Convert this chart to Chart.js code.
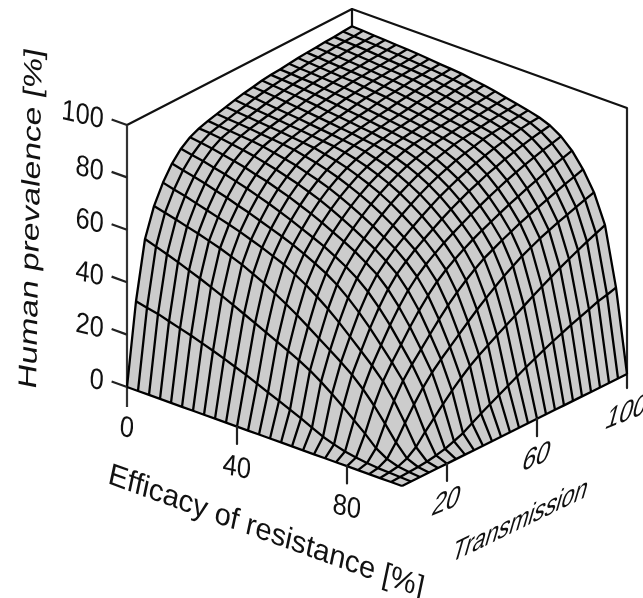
<!DOCTYPE html>
<html>
<head>
<meta charset="utf-8">
<style>body{margin:0;background:#fff;overflow:hidden}canvas{display:block}</style>
<script src="https://cdn.jsdelivr.net/npm/chart.js@4"></script>
</head>
<body>
<canvas id="surface" width="643" height="598"></canvas>
<script>
const efficacy = [0,4,8,12,16,20,24,28,32,36,40,44,48,52,56,60,64,68,72,76,80,84,88,92,96,100];
const transmission = [0,4,8,12,16,20,24,28,32,36,40,44,48,52,56,60,64,68,72,76,80,84,88,92,96,100];

// one row per transmission value, one column per efficacy value
const prevalence = [
[0,0,0,0,0,0,0,0,0,0,0,0,0,0,0,0,0,0,0,0,0,0,0,0,0,0],
[31,30,29.2,27.9,26.7,25.5,24.1,22.7,21.2,19.6,18,16.2,14.4,12.6,10.8,9,7,5,3.6,2.4,1.6,1,.6,.4,.2,0],
[53,51.6,50.2,48.7,47.1,45.5,43.7,41.9,40,38,36,34,32,30,27.9,25.5,22.7,19.6,16.2,12.6,9,5,2.4,1,.4,0],
[63.8,62.8,61.7,60.5,59.4,58.1,56.8,55.2,53.6,51.6,49.5,47.1,44.6,41.9,39,36,33,30,26.7,22.7,18,12.6,7,2.4,.6,0],
[71,69.9,68.9,67.7,66.5,65.3,64.1,62.8,61.3,59.8,58.1,56.4,54.1,51.6,48.7,45.5,41.9,38,34,30,25.5,19.6,12.6,5,1,0],
[76.5,75.5,74.5,73.4,72.2,71,69.6,68.3,66.8,65.3,63.8,62.1,60.2,58.1,55.8,53,49.5,45.5,41,36,31,25.5,18,9,1.6,0],
[80.4,79.5,78.7,77.7,76.7,75.5,74.3,72.9,71.5,69.9,68.3,66.5,64.7,62.8,60.5,58.1,55.2,51.6,47.1,41.9,36,30,22.7,12.6,2.4,0],
[83,82.4,81.7,80.9,80,79,77.8,76.7,75.3,73.9,72.2,70.5,68.6,66.5,64.4,62.1,59.4,56.4,52.3,47.1,41,34,26.7,16.2,3.6,0],
[84.6,84.3,83.8,83.1,82.4,81.6,80.6,79.5,78.3,77,75.5,73.9,72,69.9,67.7,65.3,62.8,59.8,56.4,51.6,45.5,38,30,19.6,5,0],
[85.7,85.3,84.9,84.5,84.1,83.5,82.6,81.8,80.8,79.5,78.2,76.7,74.9,72.9,70.7,68.3,65.6,62.8,59.4,55.2,49.5,41.9,33,22.7,7,0],
[86.6,86.2,85.9,85.5,85,84.6,84.1,83.5,82.6,81.6,80.4,79,77.3,75.5,73.4,71,68.3,65.3,62.1,58.1,53,45.5,36,25.5,9,0],
[87.5,87.1,86.7,86.3,85.9,85.5,85,84.5,84,83.1,82.1,80.9,79.4,77.7,75.7,73.4,70.7,67.7,64.4,60.5,55.8,48.7,39,27.9,10.8,0],
[88.4,87.9,87.5,87.1,86.7,86.2,85.8,85.3,84.8,84.3,83.5,82.4,81.1,79.5,77.7,75.5,72.9,69.9,66.5,62.8,58.1,51.6,41.9,30,12.6,0],
[89.2,88.8,88.3,87.8,87.4,87,86.5,86,85.5,85,84.4,83.6,82.4,81.1,79.4,77.3,74.9,72,68.6,64.7,60.2,54.1,44.6,32,14.4,0],
[89.8,89.5,89.1,88.6,88.1,87.7,87.2,86.7,86.2,85.7,85,84.4,83.6,82.4,80.9,79,76.7,73.9,70.5,66.5,62.1,56.4,47.1,34,16.2,0],
[90.5,90.1,89.7,89.3,88.9,88.4,87.8,87.3,86.8,86.2,85.7,85,84.4,83.5,82.1,80.4,78.2,75.5,72.2,68.3,63.8,58.1,49.5,36,18,0],
[90.9,90.6,90.3,89.9,89.5,89,88.5,87.9,87.4,86.8,86.2,85.7,85,84.3,83.1,81.6,79.5,77,73.9,69.9,65.3,59.8,51.6,38,19.6,0],
[91.2,91,90.7,90.5,90,89.6,89.2,88.6,87.9,87.4,86.8,86.2,85.5,84.8,84,82.6,80.8,78.3,75.3,71.5,66.8,61.3,53.6,40,21.2,0],
[91.6,91.3,91.1,90.8,90.5,90.1,89.6,89.2,88.6,87.9,87.3,86.7,86,85.3,84.5,83.5,81.8,79.5,76.7,72.9,68.3,62.8,55.2,41.9,22.7,0],
[92,91.7,91.4,91.1,90.8,90.6,90.1,89.6,89.2,88.5,87.8,87.2,86.5,85.8,85,84.1,82.6,80.6,77.8,74.3,69.6,64.1,56.8,43.7,24.1,0],
[92.3,92,91.7,91.4,91.2,90.9,90.6,90.1,89.6,89,88.4,87.7,87,86.2,85.5,84.6,83.5,81.6,79,75.5,71,65.3,58.1,45.5,25.5,0],
[92.5,92.3,92,91.8,91.5,91.2,90.8,90.5,90,89.5,88.9,88.1,87.4,86.7,85.9,85,84.1,82.4,80,76.7,72.2,66.5,59.4,47.1,26.7,0],
[92.8,92.6,92.4,92.1,91.8,91.4,91.1,90.8,90.5,89.9,89.3,88.6,87.8,87.1,86.3,85.5,84.5,83.1,80.9,77.7,73.4,67.7,60.5,48.7,27.9,0],
[93,92.8,92.6,92.4,92,91.7,91.4,91.1,90.7,90.3,89.7,89.1,88.3,87.5,86.7,85.9,84.9,83.8,81.7,78.7,74.5,68.9,61.7,50.2,29.2,0],
[93.3,93,92.8,92.6,92.3,92,91.7,91.3,91,90.6,90.1,89.5,88.8,87.9,87.1,86.2,85.3,84.3,82.4,79.5,75.5,69.9,62.8,51.6,30,0],
[93.5,93.3,93,92.8,92.5,92.3,92,91.6,91.2,90.9,90.5,89.8,89.2,88.4,87.5,86.6,85.7,84.6,83,80.4,76.5,71,63.8,53,31,0]
];

const heightTicks = [0,20,40,60,80,100];
const efficacyTicks = [0,40,80];
const transmissionTicks = [20,60,100];

function project(e,t,z){
    let x = 402 - 275*(1-e/100) + 225*t/100;
    let y = 486 - 99*(1-e/100) - 112*t/100;
    return {x:x, y:y - z*(2.62+0.04*t/100)};
}
function line(points,width,color,order){
    return {data:points,showLine:true,pointRadius:0,borderWidth:width,borderColor:color,tension:0,fill:false,order:order,borderJoinStyle:'round',borderCapStyle:'butt'};
}

let datasets = [];
// walls
datasets.push(line([project(0,0,-7.6),project(0,0,100)],2.2,'#333',5));
datasets.push(line([project(0,0,100),project(0,100,100),project(100,100,100)],2.2,'#111',5));
datasets.push(line([project(0,100,100),project(0,100,93)],2.2,'#111',5));
datasets.push(line([project(100,100,100),project(100,100,-5.3)],2.2,'#222',5));
// filled surface
let outline = [];
efficacy.forEach((e,j)=>outline.push(project(e,0,prevalence[0][j])));
transmission.forEach((t,i)=>outline.push(project(100,t,prevalence[i][25])));
for(let j=25;j>=0;j--){
    outline.push(project(efficacy[j],100,prevalence[25][j]));
}
for(let i=25;i>=0;i--){
    outline.push(project(0,transmission[i],prevalence[i][0]));
}
let body = line(outline,0,'#000',4);
body.fill = 'shape';
body.backgroundColor = '#cccccc';
datasets.push(body);
// mesh
transmission.forEach((t,i)=>{
    datasets.push(line(efficacy.map((e,j)=>project(e,t,prevalence[i][j])),2.3,'#000',2));
});
efficacy.forEach((e,j)=>{
    datasets.push(line(transmission.map((t,i)=>project(e,t,prevalence[i][j])),2.3,'#000',2));
});
// ticks
heightTicks.forEach(z=>datasets.push(line([project(0,0,z),project(-5.6,0,z)],2.2,'#222',1)));
efficacyTicks.slice(1).forEach(e=>datasets.push(line([project(e,0,0),project(e,0,-6.6)],2.2,'#222',1)));
transmissionTicks.slice(0,2).forEach(t=>datasets.push(line([project(100,t,0),project(100,t,-6.6)],2.2,'#222',1)));

function skewText(chart,text,p,base,lean,size,width,align,tall){
    let ctx = chart.ctx;
    let px = chart.scales.x.getPixelForValue(p.x);
    let py = chart.scales.y.getPixelForValue(p.y);
    let b = base*Math.PI/180, l = lean*Math.PI/180;
    ctx.save();
    ctx.font = size+'px "Liberation Sans"';
    ctx.fillStyle = '#111';
    ctx.textBaseline = 'alphabetic';
    ctx.textAlign = 'left';
    let w = ctx.measureText(text).width;
    let s = width ? width/w : 1;
    let shift = align=='right' ? -w : align=='center' ? -w/2 : 0;
    ctx.transform(Math.cos(b)*s,Math.sin(b)*s,-Math.sin(l)*tall,Math.cos(l)*tall,px,py);
    ctx.fillText(text,shift,align=='left'?0:size*0.36);
    ctx.restore();
}

const labelPlugin = {
    id:'labels',
    afterDatasetsDraw(chart){
        heightTicks.forEach(z=>skewText(chart,String(z),project(-8.4,0,z-0.5),13,4,26,0,'right',1.12));
        efficacyTicks.forEach(e=>skewText(chart,String(e),project(e,0,-15),12,5,26,0,'center',1.12));
        transmissionTicks.forEach(t=>skewText(chart,String(t),project(100,t,-13.7),-22,15,26,0,'center',1.25));
        skewText(chart,'Efficacy of resistance [%]',{x:107,y:483},20,12,27,335,'left',1.12);
        skewText(chart,'Transmission',{x:450,y:563},-26,16,25,150,'left',1.3);
        skewText(chart,'Human prevalence [%]',{x:36,y:390},-89,-79,26,340,'left',1);
    }
};

new Chart(document.getElementById('surface').getContext('2d'),{
    type:'scatter',
    data:{datasets:datasets},
    options:{
        responsive:false,
        animation:false,
        layout:{padding:0},
        plugins:{legend:{display:false},tooltip:{enabled:false}},
        scales:{
            x:{type:'linear',min:0,max:643,display:false},
            y:{type:'linear',min:0,max:598,reverse:true,display:false}
        }
    },
    plugins:[labelPlugin]
});
</script>
</body>
</html>
